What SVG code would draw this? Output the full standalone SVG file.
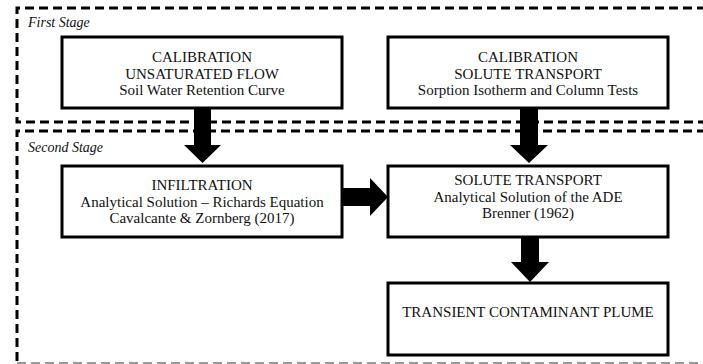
<svg xmlns="http://www.w3.org/2000/svg" width="703" height="364" viewBox="0 0 703 364">
<style>
.stage{fill:none;stroke:#000;stroke-width:3;stroke-dasharray:9,5}
.box{fill:#fff;stroke:#000;stroke-width:3}
.arr{fill:#000}
</style>
<rect width="703" height="364" fill="#fff"/>
<g id="first-stage">
<path class="stage" d="M720,8 H17 V122 H720"/>
<text x="28" y="27" font-family="Liberation Serif, Times New Roman, serif" font-size="14" font-style="italic" fill="#111">First Stage</text>
</g>
<g id="second-stage">
<path class="stage" d="M720,131 H17 V363"/>
<path d="M17,363 H720" fill="none" stroke="#999" stroke-width="2" stroke-dasharray="9,5"/>
<text x="28" y="152" font-family="Liberation Serif, Times New Roman, serif" font-size="14" font-style="italic" fill="#111">Second Stage</text>
</g>
<g id="connectors">
<polygon class="arr" points="194,108 211,108 211,145 221,145 202.5,163 184,145 194,145"/>
<polygon class="arr" points="520,108 538,108 538,145 548,145 529,163 510,145 520,145"/>
<polygon class="arr" points="342,188 370,188 370,178 388,197 370,216 370,206 342,206"/>
<polygon class="arr" points="521,237 539,237 539,262 549,262 530,282 511,262 521,262"/>
</g>
<g font-family="Liberation Serif, Times New Roman, serif" font-size="15" fill="#111" text-anchor="middle">
<g id="cal-unsat">
<rect class="box" x="62" y="37" width="280" height="71"/>
<text x="202" y="62">CALIBRATION</text>
<text x="202" y="79">UNSATURATED FLOW</text>
<text x="202" y="95">Soil Water Retention Curve</text>
</g>
<g id="cal-solute">
<rect class="box" x="388" y="37" width="280" height="71"/>
<text x="528" y="62">CALIBRATION</text>
<text x="528" y="79">SOLUTE TRANSPORT</text>
<text x="528" y="95">Sorption Isotherm and Column Tests</text>
</g>
<g id="infiltration">
<rect class="box" x="62" y="166" width="280" height="71"/>
<text x="202" y="190">INFILTRATION</text>
<text x="202" y="207">Analytical Solution – Richards Equation</text>
<text x="202" y="223">Cavalcante &amp; Zornberg (2017)</text>
</g>
<g id="solute-transport">
<rect class="box" x="388" y="166" width="280" height="71"/>
<text x="528" y="185">SOLUTE TRANSPORT</text>
<text x="528" y="202">Analytical Solution of the ADE</text>
<text x="528" y="218">Brenner (1962)</text>
</g>
<g id="plume">
<rect class="box" x="388" y="283" width="280" height="72"/>
<text x="528" y="317">TRANSIENT CONTAMINANT PLUME</text>
</g>
</g>
</svg>
